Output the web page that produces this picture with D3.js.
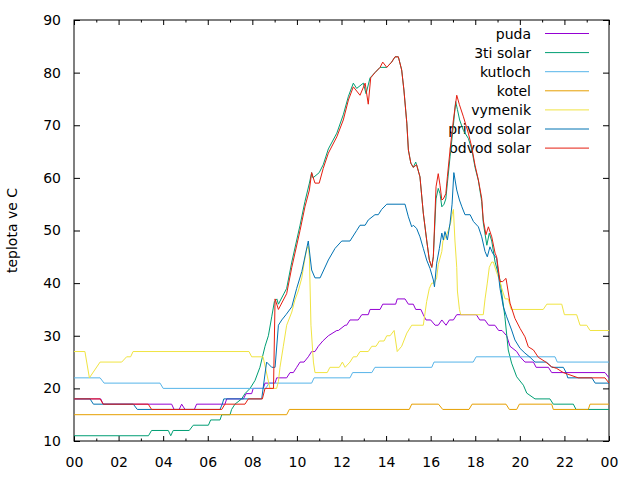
<!DOCTYPE html>
<html>
<head>
<meta charset="utf-8">
<script src="https://cdn.jsdelivr.net/npm/d3@7"></script>
<style>
  body { margin: 0; background: #fff; }
  text { font-family: "DejaVu Sans", sans-serif; }
</style>
</head>
<body>
<div id="chart"></div>
<script>
// ── Data: [hour, °C] ──
const seriesNames = ['puda', '3ti solar', 'kutloch', 'kotel', 'vymenik', 'privod solar', 'odvod solar'];
const seriesColors = ['#9400d3', '#009e73', '#56b4e9', '#e69f00', '#f0e442', '#0072b2', '#e51e10'];

const xTickHours = [0, 2, 4, 6, 8, 10, 12, 14, 16, 18, 20, 22, 24];
const xTickLabels = ['00', '02', '04', '06', '08', '10', '12', '14', '16', '18', '20', '22', '00'];
const yTicks = [10, 20, 30, 40, 50, 60, 70, 80, 90];

const puda = [
  [0,18],[1.2,18],[1.31,17],[4.38,17],[4.49,16],[4.72,16],[4.83,17],[4.98,16],[5.4,16],[5.5,17],
  [6.77,17],[6.85,18],[7.6,18],[7.72,19],[7.97,19],[8.04,20],[8.49,20],[8.57,21],[9.02,21],[9.09,22],
  [9.54,22],[9.69,23],[9.84,23],[9.99,24],[10.14,25],[10.32,25],[10.51,26],[10.66,27],[10.81,27],
  [10.96,28],[11.16,29],[11.41,30],[11.79,31],[11.86,31],[12.16,32],[12.23,32],[12.38,33],[12.75,33],
  [12.91,34],[13.2,34],[13.28,35],[13.73,35],[13.85,36],[14.43,36],[14.5,37],[14.85,37],[15.0,36],
  [15.22,36],[15.33,35],[15.56,35],[15.67,34],[15.79,33],[16.0,33],[16.2,32],[16.34,32],[16.5,33],
  [16.69,32],[16.84,33],[17.02,33],[17.17,34],[18.05,34],[18.2,33],[18.43,33],[18.6,32],[18.88,32],
  [19.05,31],[19.2,31],[19.41,30],[19.56,28],[19.86,27],[20.01,26],[20.23,25],[20.61,25],[20.73,24],
  [21.28,24],[21.43,23],[23.82,23],[24,22]
];

const tretiSolar = [
  [0,11],[3.34,11],[3.48,12],[4.23,12],[4.34,11],[4.45,12],[5.17,12],[5.35,13],[6.03,13],[6.13,14],
  [6.55,14],[6.63,15],[7.0,15],[7.07,16],[7.22,17],[7.52,18],[7.67,19],[7.9,20],[8.12,21.5],[8.34,24],
  [8.57,28],[8.72,30],[8.87,33.6],[8.99,36.5],[9.1,37],[9.17,36],[9.54,39],[9.77,44],[10.14,51],
  [10.36,55.5],[10.56,59],[10.66,61],[10.72,60],[11.0,61],[11.18,62.5],[11.41,65.5],[11.79,68.5],
  [12.08,72],[12.31,75.5],[12.53,78],[12.68,77],[12.98,78],[13.1,76],[13.28,79],[13.5,80],[13.73,81],
  [14.03,81],[14.25,82],[14.4,83],[14.55,83],[14.7,80.5],[14.8,76.7],[14.93,70.4],[15.0,65.3],
  [15.11,62.8],[15.22,62],[15.33,63],[15.4,62],[15.52,60.2],[15.67,53.3],[15.82,48.2],[15.94,44.4],
  [16.05,43],[16.12,45],[16.24,56],[16.34,58],[16.42,57],[16.5,54.5],[16.6,55],[16.68,56],[16.75,59],
  [16.87,64],[17.02,70],[17.12,74.5],[17.2,73],[17.3,71],[17.47,69],[17.69,67.5],[17.84,65.5],
  [17.99,62],[18.14,59.5],[18.29,55.5],[18.36,51.5],[18.52,47.2],[18.63,49.5],[18.74,48],[18.89,44],
  [19.11,40.6],[19.33,33.6],[19.48,27.3],[19.63,24.8],[19.86,22.2],[20.16,20.6],[20.31,19.1],
  [20.68,18],[21.35,18],[21.5,17],[22.4,17],[22.52,16],[24,16]
];

const kutloch = [
  [0,22],[1.17,22],[1.35,21],[3.86,21],[4.0,20],[8.6,20],[8.75,21],[10.66,21],[10.77,22],[12.38,22],
  [12.5,23],[13.36,23],[13.5,24],[16.05,24],[16.15,25],[17.91,25],[18.04,26],[21.58,26],[21.68,25],[24,25]
];

const kotel = [
  [0,15],[9.54,15],[9.66,16],[15.04,16],[15.15,17],[16.35,17],[16.54,16],[17.72,16],[17.86,17],
  [19.38,17],[19.53,16],[19.86,16],[19.98,17],[21.43,17],[21.5,16],[23.07,16],[23.15,17],[24,17]
];

const vymenik = [
  [0,27],[0.49,27],[0.69,22],[1.17,25],[2.14,25],[2.36,26],[2.54,26],[2.65,27],[7.85,27],[7.97,26],
  [8.48,26],[8.79,20],[9.09,20],[9.17,21.3],[9.24,24],[9.39,28],[9.54,32],[9.77,34.5],[9.91,36.8],
  [10.06,38.5],[10.22,41],[10.33,44],[10.44,46.5],[10.51,47],[10.56,45],[10.63,32],[10.74,25],
  [10.81,23],[11.36,23],[11.48,24],[11.9,24],[12.04,25],[12.16,24],[12.38,25],[12.53,26],[12.68,26],
  [12.83,27],[13.2,27],[13.36,28],[13.55,28],[13.7,29],[13.91,29],[14.03,30],[14.18,30],[14.36,31],
  [14.5,27],[14.7,28],[14.93,30.5],[15.15,32],[15.67,32],[15.82,36.5],[15.94,39],[16.05,40],
  [16.15,40],[16.27,41],[16.34,43.5],[16.5,46],[16.55,48],[16.64,48.5],[16.79,50],[16.9,51.5],
  [16.96,53],[17.02,54],[17.09,48],[17.17,43],[17.2,38.5],[17.29,35],[17.35,34],[18.36,34],[18.44,37],
  [18.54,40],[18.63,43],[18.74,44],[18.81,44],[18.96,42],[19.11,40.3],[19.19,39],[19.34,37],
  [19.48,37],[19.61,35],[21.05,35],[21.21,36],[21.88,36],[22.0,34],[22.55,34],[22.7,32],[23.0,32],
  [23.15,31],[24,31]
];

const privodSolar = [
  [0,18],[0.72,18],[0.87,17],[2.66,17],[2.84,16],[6.55,16],[6.65,17],[6.72,18],[8.42,18],[8.64,25],
  [8.87,24],[9.02,24],[9.17,32],[9.32,33],[9.51,34],[9.77,35.5],[9.99,39],[10.22,42.2],[10.51,48],
  [10.66,42.5],[10.81,41],[11.04,41],[11.41,44.4],[11.71,46.6],[12.01,48],[12.38,48],[12.68,50],
  [12.83,51],[13.06,51],[13.2,52],[13.5,53],[13.65,53],[13.8,54],[14.03,55],[14.85,55],[15.0,52.6],
  [15.15,50.7],[15.22,51],[15.37,50.4],[15.52,48.8],[15.67,46.6],[15.82,44.4],[15.97,42.8],
  [16.12,40.6],[16.17,39.3],[16.27,43.8],[16.39,46.6],[16.5,49.5],[16.57,48.2],[16.64,49.8],
  [16.75,48.2],[16.87,51.4],[16.96,55],[17.04,61],[17.17,57.7],[17.29,55.8],[17.4,54.5],[17.54,53],
  [17.77,53],[17.92,51.7],[18.14,50.7],[18.29,48.8],[18.44,46],[18.54,45],[18.66,46.9],[18.78,45.7],
  [18.96,44.7],[19.11,39],[19.26,35.5],[19.41,33.6],[19.63,31.1],[19.78,29.2],[20.01,27.6],
  [20.23,26.7],[20.46,25.9],[20.68,25],[21.2,25],[21.43,24],[21.95,24],[22.08,23],[22.15,22],
  [23.23,22],[23.38,21],[24,21]
];

const odvodSolar = [
  [0,18],[1.17,18],[1.31,17],[3.33,17],[3.48,16],[6.63,16],[6.77,17],[7.67,17],[7.82,18],[8.45,18],
  [8.57,20],[8.95,20],[9.02,37],[9.17,35],[9.54,38],[9.77,43],[10.14,50],[10.36,54.5],[10.56,57.7],
  [10.66,61],[10.81,59],[11.0,59],[11.18,61.8],[11.41,64.7],[11.79,67.8],[12.08,71],[12.31,74.8],
  [12.53,77.3],[12.83,75.7],[13.06,78],[13.2,74],[13.31,79],[13.5,80],[13.73,81],[13.85,82],
  [14.03,81],[14.25,82],[14.4,83],[14.55,83],[14.7,80.5],[14.8,76.7],[14.93,70.4],[15.0,65.3],
  [15.11,62.8],[15.22,62],[15.37,62.5],[15.52,60.2],[15.67,53.3],[15.82,48.2],[15.94,44.4],[16.05,43],
  [16.12,45],[16.24,58.3],[16.34,60.8],[16.42,58.6],[16.5,55.8],[16.57,56],[16.68,57],[16.75,60.2],
  [16.87,65.3],[17.02,71],[17.17,75.7],[17.29,73.9],[17.47,71.6],[17.69,68.5],[17.84,65.9],
  [17.99,62.4],[18.14,59.6],[18.29,56.1],[18.36,52],[18.48,49.2],[18.59,50.7],[18.74,48.8],
  [18.89,45.7],[18.96,45],[19.11,40.3],[19.23,40.3],[19.38,40.9],[19.56,36.2],[19.78,33.3],
  [20.01,31.4],[20.23,29.8],[20.38,27.9],[20.61,27.3],[20.83,25.9],[21.13,25.1],[21.43,24.1],
  [21.65,23.8],[21.95,23],[22.62,22],[23.82,22],[24,21]
];

const seriesData = [puda, tretiSolar, kutloch, kotel, vymenik, privodSolar, odvodSolar];

// ── Layout ──
const W = 640, H = 480;
const margin = { top: 20, right: 31, bottom: 39, left: 74 };
const width  = W - margin.left - margin.right;
const height = H - margin.top - margin.bottom;

const svg = d3.select('#chart')
  .append('svg')
  .attr('width', W)
  .attr('height', H);

const g = svg.append('g')
  .attr('transform', `translate(${margin.left},${margin.top})`);

const x = d3.scaleLinear().domain([0, 24]).range([0, width]);
const y = d3.scaleLinear().domain([10, 90]).range([height, 0]);

// ── Axes (gnuplot style: inward ticks, mirrored) ──
const minorHours = d3.range(1, 24, 2);

g.append('g').attr('transform', `translate(0,${height})`)
  .call(d3.axisBottom(x).tickValues(xTickHours).tickSize(-5).tickSizeOuter(0)
    .tickPadding(16).tickFormat((d, i) => xTickLabels[i]));
g.append('g').attr('transform', `translate(0,${height})`)
  .call(d3.axisBottom(x).tickValues(minorHours).tickSize(-2.5).tickSizeOuter(0).tickFormat(''));
g.append('g')
  .call(d3.axisTop(x).tickValues(xTickHours).tickSize(-5).tickSizeOuter(0).tickFormat(''));
g.append('g')
  .call(d3.axisTop(x).tickValues(minorHours).tickSize(-2.5).tickSizeOuter(0).tickFormat(''));

g.append('g')
  .call(d3.axisLeft(y).tickValues(yTicks).tickSize(-6).tickSizeOuter(0).tickPadding(13));
g.append('g').attr('transform', `translate(${width},0)`)
  .call(d3.axisRight(y).tickValues(yTicks).tickSize(-6).tickSizeOuter(0).tickFormat(''));

g.selectAll('.domain').remove();
g.selectAll('.tick line').attr('stroke', '#000');
g.selectAll('.tick text')
  .attr('fill', '#000')
  .style('font-size', '14px')
  .style('font-family', '"DejaVu Sans", sans-serif');

// Border
g.append('rect')
  .attr('x', 0).attr('y', 0)
  .attr('width', width).attr('height', height)
  .attr('fill', 'none').attr('stroke', '#000').attr('stroke-width', 1);

// Y label
svg.append('text')
  .attr('transform', `translate(17,${margin.top + height / 2}) rotate(-90)`)
  .attr('text-anchor', 'middle')
  .attr('fill', '#000')
  .style('font-size', '14px')
  .text('teplota ve C');

// ── Legend (drawn first, lines go over it) ──
const legend = g.append('g');
seriesNames.forEach((name, i) => {
  const ly = 13.5 + i * 19.1;
  legend.append('text')
    .attr('x', 457).attr('y', ly + 5)
    .attr('text-anchor', 'end')
    .attr('fill', '#000')
    .style('font-size', '14px')
    .text(name);
  legend.append('line')
    .attr('x1', 471).attr('x2', 515)
    .attr('y1', ly).attr('y2', ly)
    .attr('stroke', seriesColors[i]).attr('stroke-width', 1);
});

// ── Lines ──
g.append('clipPath').attr('id', 'clip')
  .append('rect').attr('width', width).attr('height', height);

const lineGen = d3.line()
  .x(d => x(d[0]))
  .y(d => y(d[1]));

seriesData.forEach((data, i) => {
  g.append('path').datum(data)
    .attr('clip-path', 'url(#clip)')
    .attr('fill', 'none')
    .attr('stroke', seriesColors[i])
    .attr('stroke-width', 1)
    .attr('d', lineGen);
});
</script>
</body>
</html>
